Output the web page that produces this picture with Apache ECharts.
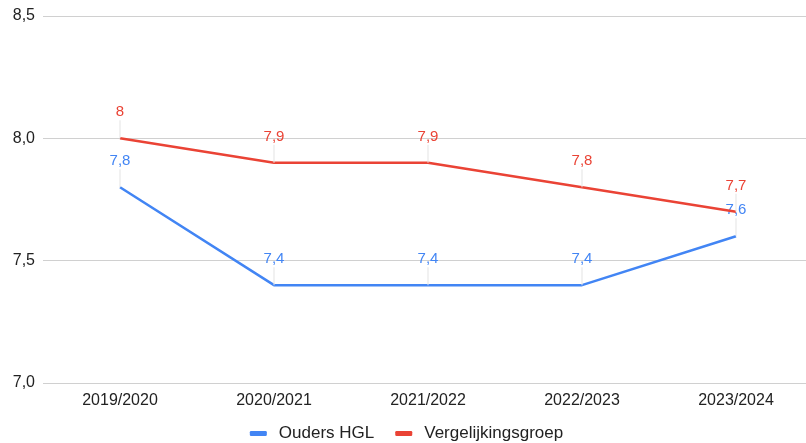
<!DOCTYPE html>
<html>
<head>
<meta charset="utf-8">
<script src="https://cdn.jsdelivr.net/npm/echarts@6/dist/echarts.min.js"></script>
<style>
  html, body { margin: 0; padding: 0; background: #fff; overflow: hidden; }
  #chart { width: 813px; height: 443px; }
</style>
</head>
<body>
<div id="chart"></div>
<script>
// schooljaren
var categories = ["2019/2020", "2020/2021", "2021/2022", "2022/2023", "2023/2024"];
var oudersHGL = [7.8, 7.4, 7.4, 7.4, 7.6];
var vergelijkingsgroep = [8.0, 7.9, 7.9, 7.8, 7.7];
var yTicks = [7.0, 7.5, 8.0, 8.5];

var BLUE = "#4285F4";
var RED = "#EA4335";
var FONT = "'Liberation Sans', Arial, sans-serif";

function comma (v) {
  return String(v).replace(".", ",");
}

function makeSeries (name, data, color) {
  return {
    name: name,
    type: "line",
    data: data,
    symbol: "circle",
    symbolSize: 0,
    showSymbol: true,
    lineStyle: { color: color, width: 2.5 },
    itemStyle: { color: color },
    label: {
      show: true,
      position: "top",
      distance: 0,
      align: "center",
      formatter: function (p) { return "{v|" + comma(p.value) + "}\n{l|}"; },
      rich: {
        v: { color: color, fontSize: 15, fontFamily: FONT, lineHeight: 16, align: "center" },
        // vertical leader line under the value
        l: { width: 1, height: 18, backgroundColor: "#e3e3e3", align: "center" }
      }
    },
    z: name === "Vergelijkingsgroep" ? 3 : 2
  };
}

var myChart = echarts.init(document.getElementById("chart"));
var option = {
  animation: false,
  textStyle: { fontFamily: FONT },
  grid: { left: 43, right: 0, top: 16, bottom: 60 },
  legend: {
    top: 420,
    left: "center",
    icon: "roundRect",
    itemWidth: 17,
    itemHeight: 5,
    itemGap: 21,
    textStyle: { color: "#222", fontSize: 17, fontFamily: FONT, padding: [0, 0, 0, 7] },
    data: ["Ouders HGL", "Vergelijkingsgroep"]
  },
  xAxis: {
    type: "category",
    data: categories,
    boundaryGap: true,
    axisLine: { show: false },
    axisTick: { show: false },
    axisLabel: { color: "#222", fontSize: 16, margin: 10 }
  },
  yAxis: {
    type: "value",
    min: yTicks[0],
    max: yTicks[yTicks.length - 1],
    interval: 0.5,
    axisLine: { show: false },
    axisTick: { show: false },
    axisLabel: {
      color: "#222",
      fontSize: 16,
      margin: 8,
      padding: [3, 0, 0, 0],
      formatter: function (v) { return v.toFixed(1).replace(".", ","); }
    },
    splitLine: { lineStyle: { color: "#d0d0d0", width: 1 } }
  },
  series: [
    makeSeries("Ouders HGL", oudersHGL, BLUE),
    makeSeries("Vergelijkingsgroep", vergelijkingsgroep, RED)
  ]
};
myChart.setOption(option);
</script>
</body>
</html>
